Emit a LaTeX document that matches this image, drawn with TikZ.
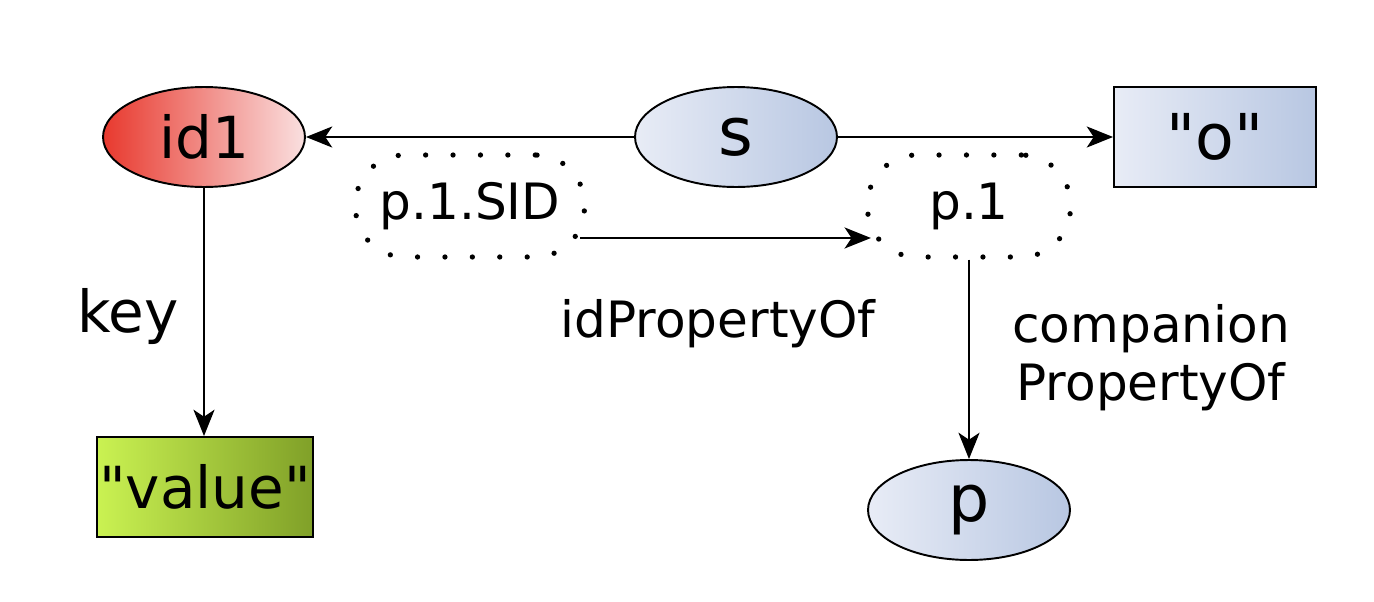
\documentclass[tikz,border=0pt]{standalone}
\usepackage{fontspec}
\setmainfont{DejaVu Sans}[Ligatures=TeXOff]
\usetikzlibrary{shapes, arrows.meta}
\tikzset{>={Stealth[length=15pt,width=12pt,inset=4pt]}}
\definecolor{idred}{RGB}{232,57,46}
\definecolor{idpink}{RGB}{250,224,224}
\definecolor{resleft}{RGB}{232,236,246}
\definecolor{resright}{RGB}{184,199,226}
\definecolor{litleft}{RGB}{202,242,82}
\definecolor{litright}{RGB}{128,160,40}

\begin{document}
\begin{tikzpicture}[x=0.02cm, y=-0.02cm, line width=1.1pt,
  res/.style = {ellipse, draw, minimum width=4.04cm, minimum height=2cm, inner sep=0pt, left color=resleft, right color=resright},
  lit/.style = {rectangle, draw, minimum height=2cm, inner sep=0pt},
  blank/.style = {rectangle, rounded corners=28pt, draw, line width=3pt, dash pattern=on 0pt off 15.6pt, line cap=round, minimum height=2.04cm, inner sep=0pt},
  lbl/.style = {font=\fontsize{28.5}{33}\selectfont, align=center},
  -> ]
          \useasboundingbox (0,0) rectangle (1374,602);
          % nodes
          \node[res, left color=idred, right color=idpink, font=\fontsize{33}{36}\selectfont] (id1) at (204,137) {id1};
          \node[res, font=\fontsize{38}{40}\selectfont] (s) at (736,137) {s};
          \node[lit, minimum width=4.04cm, left color=resleft, right color=resright, font=\fontsize{36}{40}\selectfont] (o) at (1215,137) {"o"};
          \node[blank, minimum width=4.58cm, font=\fontsize{28.5}{32}\selectfont] (sid) at (470,206) {p.1.SID};
          \node[blank, minimum width=4.06cm, font=\fontsize{28.5}{32}\selectfont] (p1) at (969,206) {p.1};
          \node[lit, minimum width=4.32cm, left color=litleft, right color=litright, font=\fontsize{33}{36}\selectfont] (value) at (205,487) {"value"};
          \node[res, font=\fontsize{37}{40}\selectfont] (p) at (969,510) {p};

          \node[font=\fontsize{33}{36}\selectfont] (key) at (128,316) {key};
          \node[lbl] (idprop) at (718,324) {idPropertyOf};
          \node[lbl] (comp) at (1151,358) {companion\\PropertyOf};

          % connections
          \draw (s.west) -- (id1.east);
          \draw (s.east) -- (o.west);
          \draw ([shift={(-0.14cm,-0.64cm)}]sid.east) -- ([shift={(0.12cm,-0.64cm)}]p1.west);
          \draw (id1.south) -- (id1.south |- value.north);
          \draw (p1.south) -- (p.north);
\end{tikzpicture}
\end{document}
